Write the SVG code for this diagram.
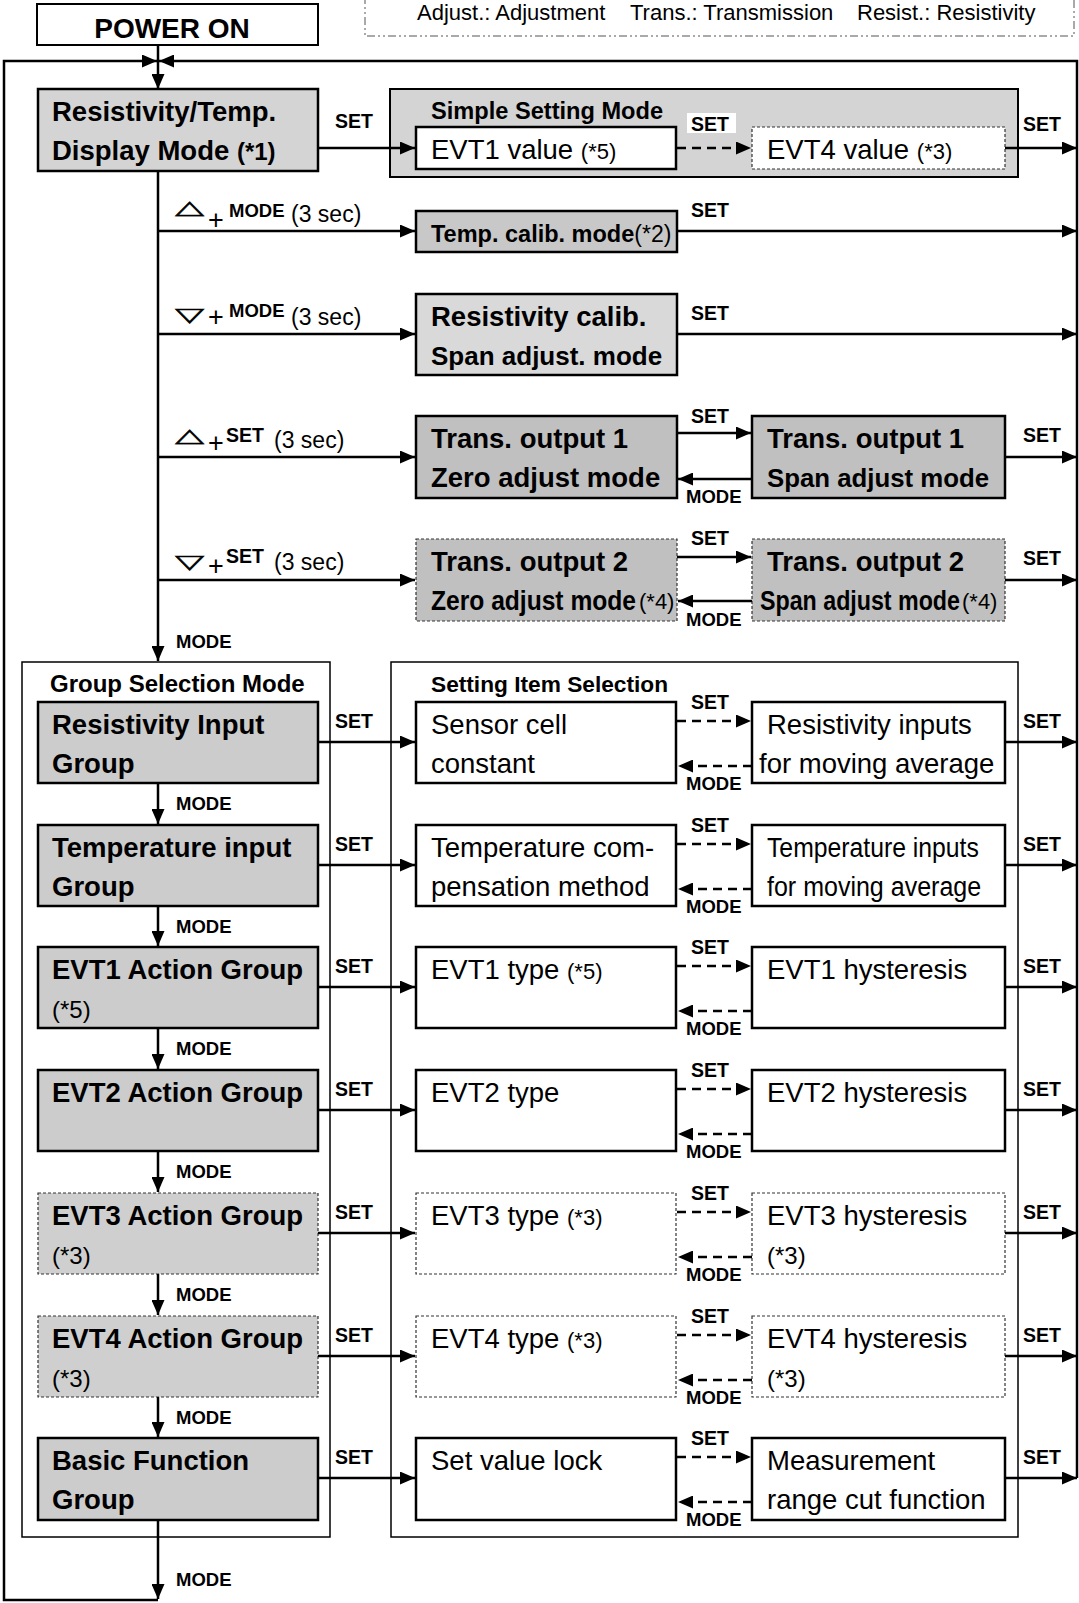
<svg xmlns="http://www.w3.org/2000/svg" width="1079" height="1603" viewBox="0 0 1079 1603">
<style>
text{font-family:"Liberation Sans",Arial,sans-serif;fill:#000}
.b{font-weight:bold;font-size:27.5px}
.r{font-size:27.5px}
.h{font-weight:bold;font-size:23px}
.s{font-weight:bold;font-size:18.5px}
.st{font-weight:bold;font-size:19.5px}
.n{font-size:22px}
.nb{font-size:24px;font-weight:bold}
.lg{font-size:22px}
.sym{font-family:"DejaVu Sans",sans-serif;font-size:38px;stroke:#000;stroke-width:0.8}
.g1{fill:#d4d4d4;stroke:#000;stroke-width:2.5}
.g2{fill:#cccccc;stroke:#000;stroke-width:2.5}
.g3{fill:#c0c0c0;stroke:#000;stroke-width:2.5}
.dg{fill:#cfcfcf;stroke:#333;stroke-width:1.2;stroke-dasharray:3 2}
.dg3{fill:#c0c0c0;stroke:#333;stroke-width:1.2;stroke-dasharray:3 2}
.w{fill:#fff;stroke:#000;stroke-width:2.5}
.dw{fill:#fff;stroke:#333;stroke-width:1.2;stroke-dasharray:3 2}
.fr{fill:none;stroke:#000;stroke-width:1.5}
.ln{fill:none;stroke:#000;stroke-width:2.5}
.a{marker-end:url(#ah)}
.d{stroke-dasharray:9 6}
</style>
<defs>
<marker id="ah" viewBox="0 0 15 13" markerWidth="15" markerHeight="13" refX="15" refY="6.5" orient="auto" markerUnits="userSpaceOnUse">
<path d="M0,0 L15,6.5 L0,13 z" fill="#000"/>
</marker>
</defs>
<rect width="1079" height="1603" fill="#fff"/>

<g id="legend">
<rect x="365" y="-5" width="709" height="41" fill="none" stroke="#555" stroke-width="1" stroke-dasharray="8 3 2 3 2 3"/>
<text class="lg" x="417" y="20">Adjust.: Adjustment</text>
<text class="lg" x="630" y="20">Trans.: Transmission</text>
<text class="lg" x="857" y="20">Resist.: Resistivity</text>
</g>

<g id="power-on">
<rect x="37" y="4" width="281" height="41" fill="#fff" stroke="#000" stroke-width="2"/>
<text class="b" x="172" y="38" text-anchor="middle" style="font-size:28px">POWER ON</text>
</g>

<g id="display-mode">
<rect class="g1" x="38" y="89" width="280" height="82"/>
<text class="b" x="52" y="121">Resistivity/Temp.</text>
<text class="b" x="52" y="160">Display Mode <tspan class="nb">(*1)</tspan></text>
</g>

<g id="simple-setting">
<rect x="390" y="89" width="628" height="88" fill="#d4d4d4" stroke="#000" stroke-width="2"/>
<text class="h" x="431" y="119" style="font-size:23.6px">Simple Setting Mode</text>
</g>
<g id="evt1-value">
<rect class="w" x="416" y="127" width="260" height="42"/>
<text class="r" x="431" y="159">EVT1 value <tspan class="n">(*5)</tspan></text>
</g>
<g id="evt4-value">
<rect class="dw" x="752" y="127" width="253" height="42"/>
<text class="r" x="767" y="159">EVT4 value <tspan class="n">(*3)</tspan></text>
</g>

<g id="temp-calib">
<rect x="416" y="211" width="261" height="41" fill="#c8c8c8" stroke="#000" stroke-width="2.5"/>
<text class="h" x="431" y="242" style="font-size:23.5px">Temp. calib. mode<tspan class="n" style="font-weight:normal;font-size:23px">(*2)</tspan></text>
</g>

<g id="res-calib">
<rect x="416" y="294" width="261" height="81" fill="#d9d9d9" stroke="#000" stroke-width="2.5"/>
<text class="b" x="431" y="326">Resistivity calib.</text>
<text class="b" x="431" y="365" style="font-size:26px">Span adjust. mode</text>
</g>

<g id="trans1-zero">
<rect class="g3" x="416" y="416" width="261" height="82"/>
<text class="b" x="431" y="448">Trans. output 1</text>
<text class="b" x="431" y="487">Zero adjust mode</text>
</g>
<g id="trans1-span">
<rect class="g3" x="752" y="416" width="253" height="82"/>
<text class="b" x="767" y="448">Trans. output 1</text>
<text class="b" x="767" y="487" style="font-size:25.8px">Span adjust mode</text>
</g>
<g id="trans2-zero">
<rect class="dg3" x="416" y="539" width="261" height="82"/>
<text class="b" x="431" y="571">Trans. output 2</text>
<text class="b" transform="translate(431,610) scale(0.895,1)">Zero adjust mode</text>
<text class="n" x="639" y="609">(*4)</text>
</g>
<g id="trans2-span">
<rect class="dg3" x="752" y="539" width="253" height="82"/>
<text class="b" x="767" y="571">Trans. output 2</text>
<text class="b" transform="translate(760,610) scale(0.845,1)">Span adjust mode</text>
<text class="n" x="962" y="609">(*4)</text>
</g>

<g id="group-selection-mode">
<rect class="fr" x="22" y="662" width="308" height="875"/>
<text class="h" x="50" y="692" style="font-size:24px">Group Selection Mode</text>
</g>
<g id="setting-item-selection">
<rect class="fr" x="391" y="662" width="627" height="875"/>
<text class="h" x="431" y="692" style="font-size:22.7px">Setting Item Selection</text>
</g>

<g id="grp-resistivity">
<rect class="g2" x="38" y="702" width="280" height="81"/>
<text class="b" x="52" y="734">Resistivity Input</text>
<text class="b" x="52" y="773">Group</text>
</g>
<g id="grp-temperature">
<rect class="g2" x="38" y="825" width="280" height="81"/>
<text class="b" x="52" y="857">Temperature input</text>
<text class="b" x="52" y="896">Group</text>
</g>
<g id="grp-evt1">
<rect class="g2" x="38" y="947" width="280" height="81"/>
<text class="b" x="52" y="979">EVT1 Action Group</text>
<text class="n" x="52" y="1018" style="font-size:24px">(*5)</text>
</g>
<g id="grp-evt2">
<rect class="g2" x="38" y="1070" width="280" height="81"/>
<text class="b" x="52" y="1102">EVT2 Action Group</text>
</g>
<g id="grp-evt3">
<rect class="dg" x="38" y="1193" width="280" height="81"/>
<text class="b" x="52" y="1225">EVT3 Action Group</text>
<text class="n" x="52" y="1264" style="font-size:24px">(*3)</text>
</g>
<g id="grp-evt4">
<rect class="dg" x="38" y="1316" width="280" height="81"/>
<text class="b" x="52" y="1348">EVT4 Action Group</text>
<text class="n" x="52" y="1387" style="font-size:24px">(*3)</text>
</g>
<g id="grp-basic">
<rect class="g2" x="38" y="1438" width="280" height="82"/>
<text class="b" x="52" y="1470">Basic Function</text>
<text class="b" x="52" y="1509">Group</text>
</g>

<g id="item-sensor-cell">
<rect class="w" x="416" y="702" width="260" height="81"/>
<text class="r" x="431" y="734">Sensor cell</text>
<text class="r" x="431" y="773">constant</text>
</g>
<g id="item-res-avg">
<rect class="w" x="752" y="702" width="253" height="81"/>
<text class="r" x="767" y="734">Resistivity inputs</text>
<text class="r" x="759" y="773">for moving average</text>
</g>
<g id="item-temp-comp">
<rect class="w" x="416" y="825" width="260" height="81"/>
<text class="r" x="431" y="857">Temperature com-</text>
<text class="r" x="431" y="896">pensation method</text>
</g>
<g id="item-temp-avg">
<rect class="w" x="752" y="825" width="253" height="81"/>
<text class="r" transform="translate(767,857) scale(0.9,1)">Temperature inputs</text>
<text class="r" transform="translate(767,896) scale(0.91,1)">for moving average</text>
</g>
<g id="item-evt1-type">
<rect class="w" x="416" y="947" width="260" height="81"/>
<text class="r" x="431" y="979">EVT1 type <tspan class="n">(*5)</tspan></text>
</g>
<g id="item-evt1-hys">
<rect class="w" x="752" y="947" width="253" height="81"/>
<text class="r" x="767" y="979">EVT1 hysteresis</text>
</g>
<g id="item-evt2-type">
<rect class="w" x="416" y="1070" width="260" height="81"/>
<text class="r" x="431" y="1102">EVT2 type</text>
</g>
<g id="item-evt2-hys">
<rect class="w" x="752" y="1070" width="253" height="81"/>
<text class="r" x="767" y="1102">EVT2 hysteresis</text>
</g>
<g id="item-evt3-type">
<rect class="dw" x="416" y="1193" width="260" height="81"/>
<text class="r" x="431" y="1225">EVT3 type <tspan class="n">(*3)</tspan></text>
</g>
<g id="item-evt3-hys">
<rect class="dw" x="752" y="1193" width="253" height="81"/>
<text class="r" x="767" y="1225">EVT3 hysteresis</text>
<text class="n" x="767" y="1264" style="font-size:24px">(*3)</text>
</g>
<g id="item-evt4-type">
<rect class="dw" x="416" y="1316" width="260" height="81"/>
<text class="r" x="431" y="1348">EVT4 type <tspan class="n">(*3)</tspan></text>
</g>
<g id="item-evt4-hys">
<rect class="dw" x="752" y="1316" width="253" height="81"/>
<text class="r" x="767" y="1348">EVT4 hysteresis</text>
<text class="n" x="767" y="1387" style="font-size:24px">(*3)</text>
</g>
<g id="item-lock">
<rect class="w" x="416" y="1438" width="260" height="82"/>
<text class="r" x="431" y="1470">Set value lock</text>
</g>
<g id="item-range-cut">
<rect class="w" x="752" y="1438" width="253" height="82"/>
<text class="r" x="767" y="1470">Measurement</text>
<text class="r" x="767" y="1509">range cut function</text>
</g>

<g id="connectors">
<path class="ln a" d="M158,1600 H4 V61 H157"/>
<path class="ln a" d="M1077,1478 V61 H159"/>
<path class="ln a" d="M158,45 V89"/>
<path class="ln a" d="M158,171 V661"/>
<path class="ln a" d="M158,231 H415"/>
<path class="ln a" d="M158,334 H415"/>
<path class="ln a" d="M158,457 H415"/>
<path class="ln a" d="M158,580 H415"/>
<path class="ln a" d="M318,148 H415"/>
<path class="ln a d" d="M677,148 H751"/>
<path class="ln a" d="M1005,148 H1077"/>
<path class="ln a" d="M677,231 H1077"/>
<path class="ln a" d="M677,334 H1077"/>
<path class="ln a" d="M677,433 H751"/>
<path class="ln a" d="M752,479 H678"/>
<path class="ln a" d="M1005,457 H1077"/>
<path class="ln a" d="M677,557 H751"/>
<path class="ln a" d="M752,601 H678"/>
<path class="ln a" d="M1005,580 H1077"/>

<path class="ln a" d="M158,783 V824"/>
<path class="ln a" d="M158,906 V946"/>
<path class="ln a" d="M158,1028 V1069"/>
<path class="ln a" d="M158,1151 V1192"/>
<path class="ln a" d="M158,1274 V1315"/>
<path class="ln a" d="M158,1397 V1437"/>
<path class="ln a" d="M158,1520 V1599"/>

<path class="ln a" d="M318,742 H415"/>
<path class="ln a" d="M318,865 H415"/>
<path class="ln a" d="M318,987 H415"/>
<path class="ln a" d="M318,1110 H415"/>
<path class="ln a" d="M318,1233 H415"/>
<path class="ln a" d="M318,1356 H415"/>
<path class="ln a" d="M318,1478 H415"/>

<path class="ln a d" d="M677,721 H751"/>
<path class="ln a d" d="M752,766 H678"/>
<path class="ln a d" d="M677,844 H751"/>
<path class="ln a d" d="M752,889 H678"/>
<path class="ln a d" d="M677,966 H751"/>
<path class="ln a d" d="M752,1011 H678"/>
<path class="ln a d" d="M677,1089 H751"/>
<path class="ln a d" d="M752,1134 H678"/>
<path class="ln a d" d="M677,1212 H751"/>
<path class="ln a d" d="M752,1257 H678"/>
<path class="ln a d" d="M677,1335 H751"/>
<path class="ln a d" d="M752,1380 H678"/>
<path class="ln a d" d="M677,1457 H751"/>
<path class="ln a d" d="M752,1502 H678"/>

<path class="ln a" d="M1005,742 H1077"/>
<path class="ln a" d="M1005,865 H1077"/>
<path class="ln a" d="M1005,987 H1077"/>
<path class="ln a" d="M1005,1110 H1077"/>
<path class="ln a" d="M1005,1233 H1077"/>
<path class="ln a" d="M1005,1356 H1077"/>
<path class="ln a" d="M1005,1478 H1077"/>

<g id="connector-labels">
<text class="st" x="335" y="128">SET</text>
<rect x="687" y="113" width="49" height="20" fill="#fff"/>
<text class="st" x="691" y="131">SET</text>
<text class="st" x="1023" y="131">SET</text>

<text class="sym" transform="translate(175,214) scale(1,0.5)">△</text>
<text class="r" x="208" y="229" style="font-size:27px">+</text>
<text class="s" x="229" y="217">MODE</text>
<text class="n" x="291" y="222" style="font-size:23px">(3 sec)</text>
<text class="st" x="691" y="217">SET</text>

<text class="sym" transform="translate(175,321) scale(1,0.5)">▽</text>
<text class="r" x="208" y="326" style="font-size:27px">+</text>
<text class="s" x="229" y="317">MODE</text>
<text class="n" x="291" y="325" style="font-size:23px">(3 sec)</text>
<text class="st" x="691" y="320">SET</text>

<text class="sym" transform="translate(175,442) scale(1,0.5)">△</text>
<text class="r" x="208" y="452" style="font-size:27px">+</text>
<text class="st" x="226" y="442">SET</text>
<text class="n" x="274" y="448" style="font-size:23px">(3 sec)</text>
<text class="st" x="691" y="423">SET</text>
<text class="s" x="686" y="503">MODE</text>
<text class="st" x="1023" y="442">SET</text>

<text class="sym" transform="translate(175,568) scale(1,0.5)">▽</text>
<text class="r" x="208" y="575" style="font-size:27px">+</text>
<text class="st" x="226" y="563">SET</text>
<text class="n" x="274" y="570" style="font-size:23px">(3 sec)</text>
<text class="st" x="691" y="545">SET</text>
<text class="s" x="686" y="626">MODE</text>
<text class="st" x="1023" y="565">SET</text>

<text class="s" x="176" y="648">MODE</text>

<text class="st" x="335" y="728">SET</text>
<text class="st" x="691" y="709">SET</text>
<text class="s" x="686" y="790">MODE</text>
<text class="st" x="1023" y="728">SET</text>
<text class="s" x="176" y="810">MODE</text>

<text class="st" x="335" y="851">SET</text>
<text class="st" x="691" y="832">SET</text>
<text class="s" x="686" y="913">MODE</text>
<text class="st" x="1023" y="851">SET</text>
<text class="s" x="176" y="933">MODE</text>

<text class="st" x="335" y="973">SET</text>
<text class="st" x="691" y="954">SET</text>
<text class="s" x="686" y="1035">MODE</text>
<text class="st" x="1023" y="973">SET</text>
<text class="s" x="176" y="1055">MODE</text>

<text class="st" x="335" y="1096">SET</text>
<text class="st" x="691" y="1077">SET</text>
<text class="s" x="686" y="1158">MODE</text>
<text class="st" x="1023" y="1096">SET</text>
<text class="s" x="176" y="1178">MODE</text>

<text class="st" x="335" y="1219">SET</text>
<text class="st" x="691" y="1200">SET</text>
<text class="s" x="686" y="1281">MODE</text>
<text class="st" x="1023" y="1219">SET</text>
<text class="s" x="176" y="1301">MODE</text>

<text class="st" x="335" y="1342">SET</text>
<text class="st" x="691" y="1323">SET</text>
<text class="s" x="686" y="1404">MODE</text>
<text class="st" x="1023" y="1342">SET</text>
<text class="s" x="176" y="1424">MODE</text>

<text class="st" x="335" y="1464">SET</text>
<text class="st" x="691" y="1445">SET</text>
<text class="s" x="686" y="1526">MODE</text>
<text class="st" x="1023" y="1464">SET</text>
<text class="s" x="176" y="1586">MODE</text>
</g>
</g>
</svg>
